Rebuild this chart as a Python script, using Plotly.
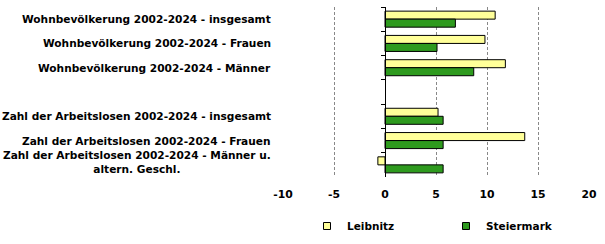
import plotly.graph_objects as go

categories = [
    "Wohnbevölkerung 2002-2024 - insgesamt",
    "Wohnbevölkerung 2002-2024 - Frauen",
    "Wohnbevölkerung 2002-2024 - Männer",
    " ",
    "Zahl der Arbeitslosen 2002-2024 - insgesamt",
    "Zahl der Arbeitslosen 2002-2024 - Frauen",
    "Zahl der Arbeitslosen 2002-2024 - Männer u.<br>altern. Geschl.",
]
leibnitz = [10.8, 9.8, 11.8, None, 5.2, 13.7, -0.7]
steiermark = [6.9, 5.1, 8.7, None, 5.7, 5.7, 5.7]
x_ticks = [-10, -5, 0, 5, 10, 15, 20]
x_tick_labels = ["-10", "-5", "0", "5", "10", "15", "20"]

YELLOW = "#FFFF99"
GREEN = "#2E9A1E"
FONT = "DejaVu Sans"

fig = go.Figure()
fig.add_trace(go.Bar(y=categories, x=leibnitz, orientation="h", name="Leibnitz",
                     marker=dict(color=YELLOW, line=dict(color="black", width=1)),
                     showlegend=False))
fig.add_trace(go.Bar(y=categories, x=steiermark, orientation="h", name="Steiermark",
                     marker=dict(color=GREEN, line=dict(color="black", width=1)),
                     showlegend=False))
for name, col in [("Leibnitz", YELLOW), ("Steiermark", GREEN)]:
    fig.add_trace(go.Scatter(x=[None], y=[None], mode="markers", name=name,
                             marker=dict(symbol="square", size=7, color=col,
                                         line=dict(color="black", width=1))))

for i, cat in enumerate(categories):
    if not cat.strip():
        continue
    fig.add_annotation(text=cat, xref="paper", x=0, xshift=-10, xanchor="right",
                       yref="y", y=cat, showarrow=False, align="center",
                       yshift=3 if "<br>" in cat else 0,
                       font=dict(family=FONT, size=10.6, color="black", weight="bold"))

fig.update_layout(
    width=605, height=244,
    margin=dict(l=283, r=16, t=7, b=67, autoexpand=False),
    paper_bgcolor="white", plot_bgcolor="white",
    barmode="group", bargap=0.34, bargroupgap=0,
    font=dict(family=FONT, size=10.5, color="black"),
    xaxis=dict(range=[-10, 20], tickvals=x_ticks, ticktext=x_tick_labels,
               showgrid=True, automargin=False,
               gridcolor="#888888", griddash="3px,2px", gridwidth=1,
               zeroline=False, showline=False, ticks="", ticklabelstandoff=9,
               tickfont=dict(family=FONT, size=10.8, color="black", weight="bold")),
    yaxis=dict(categoryorder="array", categoryarray=categories,
               range=[len(categories) - 0.5, -0.5], automargin=False,
               anchor="free", position=1/3, showline=True, linecolor="black", linewidth=1,
               ticks="outside", ticklen=4, tickcolor="black", tickson="boundaries",
               showticklabels=False, showgrid=False, zeroline=False),
    legend=dict(orientation="h", xref="container", yref="container",
                x=307/605, xanchor="left", y=1 - 226/244, yanchor="middle",
                entrywidth=94, entrywidthmode="pixels",
                font=dict(family=FONT, size=10.5, color="black", weight="bold"),
                itemwidth=30),
)

fig.write_html("out.html")
